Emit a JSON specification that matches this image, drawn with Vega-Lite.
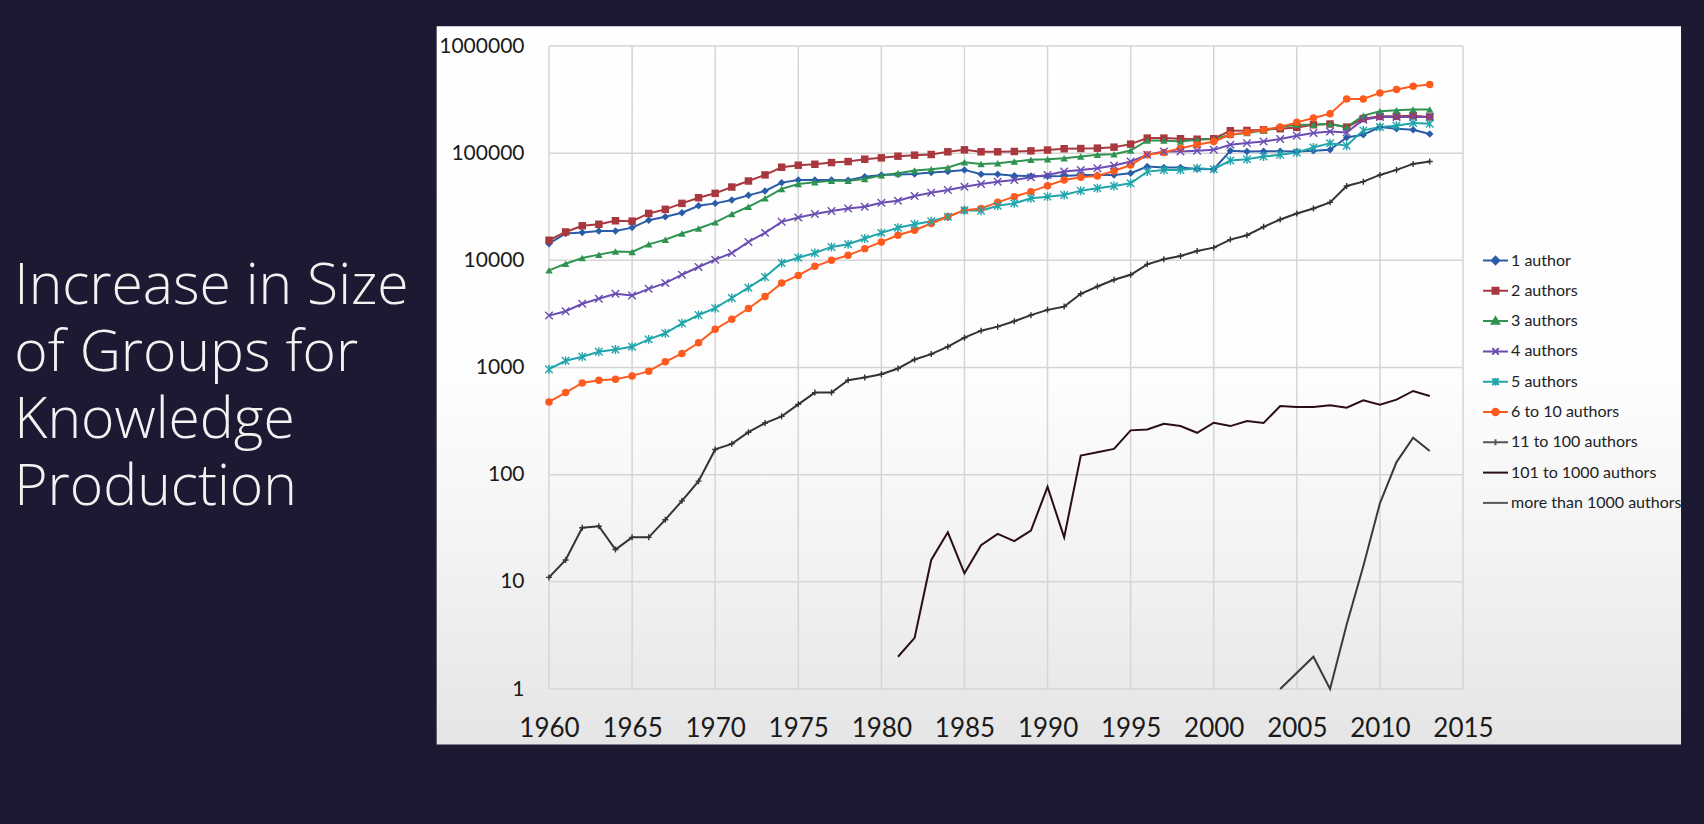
{
  "$schema": "https://vega.github.io/schema/vega-lite/v6.json",
  "width": 914,
  "height": 643,
  "autosize": {"type": "none"},
  "padding": {"left": 549, "top": 46, "right": 241, "bottom": 135},
  "background": "#1c1932",
  "config": {"view": {"stroke": null}},
  "title": {
    "text": ["Increase in Size", "of Groups for", "Knowledge", "Production"],
    "orient": "left",
    "anchor": "middle",
    "frame": "group",
    "angle": 0,
    "align": "left",
    "baseline": "alphabetic",
    "offset": 0,
    "dx": -28,
    "dy": -64,
    "font": "Open Sans",
    "fontSize": 57,
    "fontWeight": 300,
    "lineHeight": 67,
    "color": "#f2f2f2"
  },
  "datasets": {
    "years": [{"year":1960},{"year":1965},{"year":1970},{"year":1975},{"year":1980},{"year":1985},{"year":1990},{"year":1995},{"year":2000},{"year":2005},{"year":2010},{"year":2015}],
    "decades": [{"count":1},{"count":10},{"count":100},{"count":1000},{"count":10000},{"count":100000},{"count":1000000}],
    "counts": [
      {"year":1960,"series":"1 author","count":14300},{"year":1961,"series":"1 author","count":17800},{"year":1962,"series":"1 author","count":18200},{"year":1963,"series":"1 author","count":18800},{"year":1964,"series":"1 author","count":18800},{"year":1965,"series":"1 author","count":20200},{"year":1966,"series":"1 author","count":23700},{"year":1967,"series":"1 author","count":25500},{"year":1968,"series":"1 author","count":27800},{"year":1969,"series":"1 author","count":32300},
      {"year":1970,"series":"1 author","count":34000},{"year":1971,"series":"1 author","count":36500},{"year":1972,"series":"1 author","count":40400},{"year":1973,"series":"1 author","count":44400},{"year":1974,"series":"1 author","count":53100},{"year":1975,"series":"1 author","count":56200},{"year":1976,"series":"1 author","count":56200},{"year":1977,"series":"1 author","count":56200},{"year":1978,"series":"1 author","count":55900},{"year":1979,"series":"1 author","count":60400},
      {"year":1980,"series":"1 author","count":62400},{"year":1981,"series":"1 author","count":63100},{"year":1982,"series":"1 author","count":64000},{"year":1983,"series":"1 author","count":65900},{"year":1984,"series":"1 author","count":67300},{"year":1985,"series":"1 author","count":69800},{"year":1986,"series":"1 author","count":63500},{"year":1987,"series":"1 author","count":63500},{"year":1988,"series":"1 author","count":61700},{"year":1989,"series":"1 author","count":61300},
      {"year":1990,"series":"1 author","count":60800},{"year":1991,"series":"1 author","count":61300},{"year":1992,"series":"1 author","count":62700},{"year":1993,"series":"1 author","count":62700},{"year":1994,"series":"1 author","count":62700},{"year":1995,"series":"1 author","count":64900},{"year":1996,"series":"1 author","count":75000},{"year":1997,"series":"1 author","count":73400},{"year":1998,"series":"1 author","count":73400},{"year":1999,"series":"1 author","count":71300},
      {"year":2000,"series":"1 author","count":70800},{"year":2001,"series":"1 author","count":105200},{"year":2002,"series":"1 author","count":103600},{"year":2003,"series":"1 author","count":104400},{"year":2004,"series":"1 author","count":104400},{"year":2005,"series":"1 author","count":103600},{"year":2006,"series":"1 author","count":105200},{"year":2007,"series":"1 author","count":107400},{"year":2008,"series":"1 author","count":140300},{"year":2009,"series":"1 author","count":148500},
      {"year":2010,"series":"1 author","count":175500},{"year":2011,"series":"1 author","count":169000},{"year":2012,"series":"1 author","count":165500},{"year":2013,"series":"1 author","count":150700},

      {"year":1960,"series":"2 authors","count":15400},{"year":1961,"series":"2 authors","count":18400},{"year":1962,"series":"2 authors","count":21000},{"year":1963,"series":"2 authors","count":21700},{"year":1964,"series":"2 authors","count":23400},{"year":1965,"series":"2 authors","count":23200},{"year":1966,"series":"2 authors","count":27400},{"year":1967,"series":"2 authors","count":29900},{"year":1968,"series":"2 authors","count":34000},{"year":1969,"series":"2 authors","count":38400},
      {"year":1970,"series":"2 authors","count":42200},{"year":1971,"series":"2 authors","count":48300},{"year":1972,"series":"2 authors","count":55000},{"year":1973,"series":"2 authors","count":62700},{"year":1974,"series":"2 authors","count":73900},{"year":1975,"series":"2 authors","count":77200},{"year":1976,"series":"2 authors","count":78800},{"year":1977,"series":"2 authors","count":81700},{"year":1978,"series":"2 authors","count":83500},{"year":1979,"series":"2 authors","count":87800},
      {"year":1980,"series":"2 authors","count":90400},{"year":1981,"series":"2 authors","count":93700},{"year":1982,"series":"2 authors","count":95800},{"year":1983,"series":"2 authors","count":97200},{"year":1984,"series":"2 authors","count":103000},{"year":1985,"series":"2 authors","count":107400},{"year":1986,"series":"2 authors","count":103000},{"year":1987,"series":"2 authors","count":103000},{"year":1988,"series":"2 authors","count":103700},{"year":1989,"series":"2 authors","count":105000},
      {"year":1990,"series":"2 authors","count":107000},{"year":1991,"series":"2 authors","count":110000},{"year":1992,"series":"2 authors","count":110500},{"year":1993,"series":"2 authors","count":111400},{"year":1994,"series":"2 authors","count":113800},{"year":1995,"series":"2 authors","count":121400},{"year":1996,"series":"2 authors","count":138200},{"year":1997,"series":"2 authors","count":138200},{"year":1998,"series":"2 authors","count":136300},{"year":1999,"series":"2 authors","count":135000},
      {"year":2000,"series":"2 authors","count":136300},{"year":2001,"series":"2 authors","count":161900},{"year":2002,"series":"2 authors","count":163000},{"year":2003,"series":"2 authors","count":165500},{"year":2004,"series":"2 authors","count":169000},{"year":2005,"series":"2 authors","count":174000},{"year":2006,"series":"2 authors","count":184000},{"year":2007,"series":"2 authors","count":187000},{"year":2008,"series":"2 authors","count":175000},{"year":2009,"series":"2 authors","count":210000},
      {"year":2010,"series":"2 authors","count":220600},{"year":2011,"series":"2 authors","count":220600},{"year":2012,"series":"2 authors","count":224000},{"year":2013,"series":"2 authors","count":217500},

      {"year":1960,"series":"3 authors","count":8060},{"year":1961,"series":"3 authors","count":9300},{"year":1962,"series":"3 authors","count":10500},{"year":1963,"series":"3 authors","count":11300},{"year":1964,"series":"3 authors","count":12100},{"year":1965,"series":"3 authors","count":11970},{"year":1966,"series":"3 authors","count":14100},{"year":1967,"series":"3 authors","count":15600},{"year":1968,"series":"3 authors","count":17800},{"year":1969,"series":"3 authors","count":19800},
      {"year":1970,"series":"3 authors","count":22600},{"year":1971,"series":"3 authors","count":27000},{"year":1972,"series":"3 authors","count":31600},{"year":1973,"series":"3 authors","count":37900},{"year":1974,"series":"3 authors","count":46400},{"year":1975,"series":"3 authors","count":51600},{"year":1976,"series":"3 authors","count":53500},{"year":1977,"series":"3 authors","count":55400},{"year":1978,"series":"3 authors","count":55400},{"year":1979,"series":"3 authors","count":57500},
      {"year":1980,"series":"3 authors","count":62200},{"year":1981,"series":"3 authors","count":64900},{"year":1982,"series":"3 authors","count":68800},{"year":1983,"series":"3 authors","count":70800},{"year":1984,"series":"3 authors","count":73400},{"year":1985,"series":"3 authors","count":82300},{"year":1986,"series":"3 authors","count":79400},{"year":1987,"series":"3 authors","count":80600},{"year":1988,"series":"3 authors","count":83500},{"year":1989,"series":"3 authors","count":86600},
      {"year":1990,"series":"3 authors","count":87800},{"year":1991,"series":"3 authors","count":89800},{"year":1992,"series":"3 authors","count":93000},{"year":1993,"series":"3 authors","count":96500},{"year":1994,"series":"3 authors","count":97900},{"year":1995,"series":"3 authors","count":105900},{"year":1996,"series":"3 authors","count":131500},{"year":1997,"series":"3 authors","count":131500},{"year":1998,"series":"3 authors","count":128700},{"year":1999,"series":"3 authors","count":133400},
      {"year":2000,"series":"3 authors","count":135300},{"year":2001,"series":"3 authors","count":148500},{"year":2002,"series":"3 authors","count":154000},{"year":2003,"series":"3 authors","count":163000},{"year":2004,"series":"3 authors","count":175000},{"year":2005,"series":"3 authors","count":184000},{"year":2006,"series":"3 authors","count":184000},{"year":2007,"series":"3 authors","count":188000},{"year":2008,"series":"3 authors","count":175000},{"year":2009,"series":"3 authors","count":224000},
      {"year":2010,"series":"3 authors","count":245600},{"year":2011,"series":"3 authors","count":251400},{"year":2012,"series":"3 authors","count":255000},{"year":2013,"series":"3 authors","count":255000},

      {"year":1960,"series":"4 authors","count":3050},{"year":1961,"series":"4 authors","count":3350},{"year":1962,"series":"4 authors","count":3930},{"year":1963,"series":"4 authors","count":4380},{"year":1964,"series":"4 authors","count":4870},{"year":1965,"series":"4 authors","count":4700},{"year":1966,"series":"4 authors","count":5420},{"year":1967,"series":"4 authors","count":6130},{"year":1968,"series":"4 authors","count":7340},{"year":1969,"series":"4 authors","count":8660},
      {"year":1970,"series":"4 authors","count":10150},{"year":1971,"series":"4 authors","count":11700},{"year":1972,"series":"4 authors","count":14860},{"year":1973,"series":"4 authors","count":18040},{"year":1974,"series":"4 authors","count":22860},{"year":1975,"series":"4 authors","count":25100},{"year":1976,"series":"4 authors","count":27000},{"year":1977,"series":"4 authors","count":28800},{"year":1978,"series":"4 authors","count":30500},{"year":1979,"series":"4 authors","count":31600},
      {"year":1980,"series":"4 authors","count":34500},{"year":1981,"series":"4 authors","count":36000},{"year":1982,"series":"4 authors","count":39800},{"year":1983,"series":"4 authors","count":42800},{"year":1984,"series":"4 authors","count":45300},{"year":1985,"series":"4 authors","count":48700},{"year":1986,"series":"4 authors","count":51600},{"year":1987,"series":"4 authors","count":54200},{"year":1988,"series":"4 authors","count":56200},{"year":1989,"series":"4 authors","count":59600},
      {"year":1990,"series":"4 authors","count":62700},{"year":1991,"series":"4 authors","count":67300},{"year":1992,"series":"4 authors","count":69800},{"year":1993,"series":"4 authors","count":72300},{"year":1994,"series":"4 authors","count":76600},{"year":1995,"series":"4 authors","count":83500},{"year":1996,"series":"4 authors","count":96500},{"year":1997,"series":"4 authors","count":103700},{"year":1998,"series":"4 authors","count":103700},{"year":1999,"series":"4 authors","count":105200},
      {"year":2000,"series":"4 authors","count":107400},{"year":2001,"series":"4 authors","count":119700},{"year":2002,"series":"4 authors","count":124100},{"year":2003,"series":"4 authors","count":128600},{"year":2004,"series":"4 authors","count":135300},{"year":2005,"series":"4 authors","count":145400},{"year":2006,"series":"4 authors","count":154000},{"year":2007,"series":"4 authors","count":159600},{"year":2008,"series":"4 authors","count":156300},{"year":2009,"series":"4 authors","count":205400},
      {"year":2010,"series":"4 authors","count":217500},{"year":2011,"series":"4 authors","count":217500},{"year":2012,"series":"4 authors","count":217500},{"year":2013,"series":"4 authors","count":217500},

      {"year":1960,"series":"5 authors","count":964},{"year":1961,"series":"5 authors","count":1155},{"year":1962,"series":"5 authors","count":1260},{"year":1963,"series":"5 authors","count":1400},{"year":1964,"series":"5 authors","count":1475},{"year":1965,"series":"5 authors","count":1560},{"year":1966,"series":"5 authors","count":1830},{"year":1967,"series":"5 authors","count":2085},{"year":1968,"series":"5 authors","count":2585},{"year":1969,"series":"5 authors","count":3090},
      {"year":1970,"series":"5 authors","count":3575},{"year":1971,"series":"5 authors","count":4450},{"year":1972,"series":"5 authors","count":5560},{"year":1973,"series":"5 authors","count":6980},{"year":1974,"series":"5 authors","count":9440},{"year":1975,"series":"5 authors","count":10590},{"year":1976,"series":"5 authors","count":11720},{"year":1977,"series":"5 authors","count":13340},{"year":1978,"series":"5 authors","count":14130},{"year":1979,"series":"5 authors","count":15970},
      {"year":1980,"series":"5 authors","count":18040},{"year":1981,"series":"5 authors","count":20100},{"year":1982,"series":"5 authors","count":21750},{"year":1983,"series":"5 authors","count":23200},{"year":1984,"series":"5 authors","count":25500},{"year":1985,"series":"5 authors","count":29400},{"year":1986,"series":"5 authors","count":29000},{"year":1987,"series":"5 authors","count":32300},{"year":1988,"series":"5 authors","count":34000},{"year":1989,"series":"5 authors","count":37900},
      {"year":1990,"series":"5 authors","count":39300},{"year":1991,"series":"5 authors","count":40700},{"year":1992,"series":"5 authors","count":44700},{"year":1993,"series":"5 authors","count":47000},{"year":1994,"series":"5 authors","count":49400},{"year":1995,"series":"5 authors","count":52300},{"year":1996,"series":"5 authors","count":67300},{"year":1997,"series":"5 authors","count":69800},{"year":1998,"series":"5 authors","count":69800},{"year":1999,"series":"5 authors","count":72300},
      {"year":2000,"series":"5 authors","count":70800},{"year":2001,"series":"5 authors","count":85400},{"year":2002,"series":"5 authors","count":87900},{"year":2003,"series":"5 authors","count":93000},{"year":2004,"series":"5 authors","count":96500},{"year":2005,"series":"5 authors","count":101500},{"year":2006,"series":"5 authors","count":113000},{"year":2007,"series":"5 authors","count":124000},{"year":2008,"series":"5 authors","count":117200},{"year":2009,"series":"5 authors","count":163200},
      {"year":2010,"series":"5 authors","count":175400},{"year":2011,"series":"5 authors","count":180400},{"year":2012,"series":"5 authors","count":191000},{"year":2013,"series":"5 authors","count":188400},

      {"year":1960,"series":"6 to 10 authors","count":477},{"year":1961,"series":"6 to 10 authors","count":583},{"year":1962,"series":"6 to 10 authors","count":718},{"year":1963,"series":"6 to 10 authors","count":761},{"year":1964,"series":"6 to 10 authors","count":778},{"year":1965,"series":"6 to 10 authors","count":835},{"year":1966,"series":"6 to 10 authors","count":924},{"year":1967,"series":"6 to 10 authors","count":1130},{"year":1968,"series":"6 to 10 authors","count":1353},{"year":1969,"series":"6 to 10 authors","count":1703},
      {"year":1970,"series":"6 to 10 authors","count":2270},{"year":1971,"series":"6 to 10 authors","count":2820},{"year":1972,"series":"6 to 10 authors","count":3550},{"year":1973,"series":"6 to 10 authors","count":4600},{"year":1974,"series":"6 to 10 authors","count":6130},{"year":1975,"series":"6 to 10 authors","count":7230},{"year":1976,"series":"6 to 10 authors","count":8790},{"year":1977,"series":"6 to 10 authors","count":10000},{"year":1978,"series":"6 to 10 authors","count":11140},{"year":1979,"series":"6 to 10 authors","count":12860},
      {"year":1980,"series":"6 to 10 authors","count":14860},{"year":1981,"series":"6 to 10 authors","count":17140},{"year":1982,"series":"6 to 10 authors","count":19100},{"year":1983,"series":"6 to 10 authors","count":22070},{"year":1984,"series":"6 to 10 authors","count":25500},{"year":1985,"series":"6 to 10 authors","count":29400},{"year":1986,"series":"6 to 10 authors","count":30500},{"year":1987,"series":"6 to 10 authors","count":34750},{"year":1988,"series":"6 to 10 authors","count":39300},{"year":1989,"series":"6 to 10 authors","count":43750},
      {"year":1990,"series":"6 to 10 authors","count":49750},{"year":1991,"series":"6 to 10 authors","count":56200},{"year":1992,"series":"6 to 10 authors","count":59600},{"year":1993,"series":"6 to 10 authors","count":61300},{"year":1994,"series":"6 to 10 authors","count":68200},{"year":1995,"series":"6 to 10 authors","count":77600},{"year":1996,"series":"6 to 10 authors","count":96500},{"year":1997,"series":"6 to 10 authors","count":101500},{"year":1998,"series":"6 to 10 authors","count":111400},{"year":1999,"series":"6 to 10 authors","count":119700},
      {"year":2000,"series":"6 to 10 authors","count":128600},{"year":2001,"series":"6 to 10 authors","count":148500},{"year":2002,"series":"6 to 10 authors","count":156300},{"year":2003,"series":"6 to 10 authors","count":165500},{"year":2004,"series":"6 to 10 authors","count":175400},{"year":2005,"series":"6 to 10 authors","count":193900},{"year":2006,"series":"6 to 10 authors","count":212900},{"year":2007,"series":"6 to 10 authors","count":233800},{"year":2008,"series":"6 to 10 authors","count":320800},{"year":2009,"series":"6 to 10 authors","count":320800},
      {"year":2010,"series":"6 to 10 authors","count":365200},{"year":2011,"series":"6 to 10 authors","count":392500},{"year":2012,"series":"6 to 10 authors","count":421700},{"year":2013,"series":"6 to 10 authors","count":436900},

      {"year":1960,"series":"11 to 100 authors","count":11},{"year":1961,"series":"11 to 100 authors","count":16},{"year":1962,"series":"11 to 100 authors","count":32},{"year":1963,"series":"11 to 100 authors","count":33},{"year":1964,"series":"11 to 100 authors","count":20},{"year":1965,"series":"11 to 100 authors","count":26},{"year":1966,"series":"11 to 100 authors","count":26},{"year":1967,"series":"11 to 100 authors","count":38},{"year":1968,"series":"11 to 100 authors","count":57},{"year":1969,"series":"11 to 100 authors","count":87},
      {"year":1970,"series":"11 to 100 authors","count":172},{"year":1971,"series":"11 to 100 authors","count":194},{"year":1972,"series":"11 to 100 authors","count":249},{"year":1973,"series":"11 to 100 authors","count":303},{"year":1974,"series":"11 to 100 authors","count":350},{"year":1975,"series":"11 to 100 authors","count":453},{"year":1976,"series":"11 to 100 authors","count":583},{"year":1977,"series":"11 to 100 authors","count":583},{"year":1978,"series":"11 to 100 authors","count":761},{"year":1979,"series":"11 to 100 authors","count":806},
      {"year":1980,"series":"11 to 100 authors","count":866},{"year":1981,"series":"11 to 100 authors","count":979},{"year":1982,"series":"11 to 100 authors","count":1189},{"year":1983,"series":"11 to 100 authors","count":1334},{"year":1984,"series":"11 to 100 authors","count":1563},{"year":1985,"series":"11 to 100 authors","count":1897},{"year":1986,"series":"11 to 100 authors","count":2207},{"year":1987,"series":"11 to 100 authors","count":2405},{"year":1988,"series":"11 to 100 authors","count":2700},{"year":1989,"series":"11 to 100 authors","count":3080},
      {"year":1990,"series":"11 to 100 authors","count":3450},{"year":1991,"series":"11 to 100 authors","count":3700},{"year":1992,"series":"11 to 100 authors","count":4870},{"year":1993,"series":"11 to 100 authors","count":5700},{"year":1994,"series":"11 to 100 authors","count":6590},{"year":1995,"series":"11 to 100 authors","count":7340},{"year":1996,"series":"11 to 100 authors","count":9170},{"year":1997,"series":"11 to 100 authors","count":10220},{"year":1998,"series":"11 to 100 authors","count":10990},{"year":1999,"series":"11 to 100 authors","count":12230},
      {"year":2000,"series":"11 to 100 authors","count":13140},{"year":2001,"series":"11 to 100 authors","count":15620},{"year":2002,"series":"11 to 100 authors","count":17140},{"year":2003,"series":"11 to 100 authors","count":20540},{"year":2004,"series":"11 to 100 authors","count":24060},{"year":2005,"series":"11 to 100 authors","count":27380},{"year":2006,"series":"11 to 100 authors","count":30500},{"year":2007,"series":"11 to 100 authors","count":34740},{"year":2008,"series":"11 to 100 authors","count":49380},{"year":2009,"series":"11 to 100 authors","count":54200},
      {"year":2010,"series":"11 to 100 authors","count":62660},{"year":2011,"series":"11 to 100 authors","count":69780},{"year":2012,"series":"11 to 100 authors","count":79400},{"year":2013,"series":"11 to 100 authors","count":83520},

      {"year":1981,"series":"101 to 1000 authors","count":2},{"year":1982,"series":"101 to 1000 authors","count":3},{"year":1983,"series":"101 to 1000 authors","count":16},{"year":1984,"series":"101 to 1000 authors","count":29},{"year":1985,"series":"101 to 1000 authors","count":12},{"year":1986,"series":"101 to 1000 authors","count":22},{"year":1987,"series":"101 to 1000 authors","count":28},{"year":1988,"series":"101 to 1000 authors","count":24},{"year":1989,"series":"101 to 1000 authors","count":30},
      {"year":1990,"series":"101 to 1000 authors","count":77},{"year":1991,"series":"101 to 1000 authors","count":26},{"year":1992,"series":"101 to 1000 authors","count":151},{"year":1993,"series":"101 to 1000 authors","count":162},{"year":1994,"series":"101 to 1000 authors","count":174},{"year":1995,"series":"101 to 1000 authors","count":259},{"year":1996,"series":"101 to 1000 authors","count":264},{"year":1997,"series":"101 to 1000 authors","count":299},{"year":1998,"series":"101 to 1000 authors","count":284},{"year":1999,"series":"101 to 1000 authors","count":246},
      {"year":2000,"series":"101 to 1000 authors","count":305},{"year":2001,"series":"101 to 1000 authors","count":284},{"year":2002,"series":"101 to 1000 authors","count":316},{"year":2003,"series":"101 to 1000 authors","count":303},{"year":2004,"series":"101 to 1000 authors","count":437},{"year":2005,"series":"101 to 1000 authors","count":428},{"year":2006,"series":"101 to 1000 authors","count":428},{"year":2007,"series":"101 to 1000 authors","count":444},{"year":2008,"series":"101 to 1000 authors","count":422},{"year":2009,"series":"101 to 1000 authors","count":494},
      {"year":2010,"series":"101 to 1000 authors","count":450},{"year":2011,"series":"101 to 1000 authors","count":501},{"year":2012,"series":"101 to 1000 authors","count":604},{"year":2013,"series":"101 to 1000 authors","count":542},

      {"year":2004,"series":"more than 1000 authors","count":1},{"year":2006,"series":"more than 1000 authors","count":2},{"year":2007,"series":"more than 1000 authors","count":1},{"year":2008,"series":"more than 1000 authors","count":4},{"year":2009,"series":"more than 1000 authors","count":14},{"year":2010,"series":"more than 1000 authors","count":54},{"year":2011,"series":"more than 1000 authors","count":131},{"year":2012,"series":"more than 1000 authors","count":221},{"year":2013,"series":"more than 1000 authors","count":166}
    ]
  },
  "layer": [
    {
      "data": {"values": [{}]},
      "mark": {
        "type": "rect",
        "fill": {"gradient": "linear", "x1": 0, "y1": 0, "x2": 0, "y2": 1,
          "stops": [{"offset": 0, "color": "#ffffff"}, {"offset": 0.5, "color": "#fdfdfd"}, {"offset": 0.75, "color": "#f2f2f2"}, {"offset": 1, "color": "#e5e5e5"}]}
      },
      "encoding": {
        "x": {"datum": 1953.24, "type": "quantitative", "title": null},
        "x2": {"datum": 2028.12},
        "y": {"datum": 1527000, "type": "quantitative", "title": null},
        "y2": {"datum": 0.303}
      }
    },
    {
      "data": {"name": "years"},
      "mark": {"type": "rule", "color": "#d5d5d5", "strokeWidth": 1.5},
      "encoding": {"x": {"field": "year", "type": "quantitative", "title": null}}
    },
    {
      "data": {"name": "decades"},
      "mark": {"type": "rule", "color": "#d5d5d5", "strokeWidth": 1.5},
      "encoding": {"y": {"field": "count", "type": "quantitative", "title": null}}
    },
    {
      "data": {"name": "counts"},
      "mark": {"type": "line", "strokeWidth": 2},
      "encoding": {
        "x": {"field": "year", "type": "quantitative", "title": null,
          "scale": {"domain": [1960, 2015], "nice": false, "zero": false},
          "axis": {"values": [1960,1965,1970,1975,1980,1985,1990,1995,2000,2005,2010,2015], "format": "d",
            "labelFont": "Lato", "labelFontSize": 26, "labelColor": "#1a1a1a", "labelPadding": 26,
            "labelFlush": false, "labelOverlap": false, "ticks": false, "domain": false, "grid": false, "zindex": 1}},
        "y": {"field": "count", "type": "quantitative", "title": null,
          "scale": {"type": "log", "domain": [1, 1000000], "nice": false},
          "axis": {"values": [1,10,100,1000,10000,100000,1000000], "format": "d",
            "labelFont": "Lato", "labelFontSize": 21, "labelColor": "#1a1a1a", "labelPadding": 25,
            "labelOverlap": false, "ticks": false, "domain": false, "grid": false, "zindex": 1}},
        "color": {"field": "series", "type": "nominal", "legend": null,
          "scale": {"domain": ["1 author","2 authors","3 authors","4 authors","5 authors","6 to 10 authors","11 to 100 authors","101 to 1000 authors","more than 1000 authors"],
            "range": ["#2a5ca8","#a8383e","#2e9350","#6a4db2","#1fa5ab","#ff5a1e","#333333","#2a0e12","#363d38"]}}
      }
    },
    {
      "data": {"name": "counts"},
      "transform": [{"filter": {"field": "series", "oneOf": ["1 author","2 authors","3 authors","6 to 10 authors"]}}],
      "mark": {"type": "point", "filled": true, "opacity": 1, "size": 56},
      "encoding": {
        "x": {"field": "year", "type": "quantitative", "title": null},
        "y": {"field": "count", "type": "quantitative", "title": null},
        "color": {"field": "series", "type": "nominal", "legend": null,
          "scale": {"domain": ["1 author","2 authors","3 authors","4 authors","5 authors","6 to 10 authors","11 to 100 authors","101 to 1000 authors","more than 1000 authors"],
            "range": ["#2a5ca8","#a8383e","#2e9350","#6a4db2","#1fa5ab","#ff5a1e","#333333","#2a0e12","#363d38"]}},
        "shape": {"field": "series", "type": "nominal", "legend": null,
          "scale": {"domain": ["1 author","2 authors","3 authors","6 to 10 authors"], "range": ["diamond","square","triangle-up","circle"]}}
      }
    },
    {
      "data": {"name": "counts"},
      "transform": [{"filter": {"field": "series", "oneOf": ["4 authors","5 authors","11 to 100 authors"]}}],
      "mark": {"type": "point", "filled": false, "opacity": 1, "size": 56, "strokeWidth": 1.4},
      "encoding": {
        "x": {"field": "year", "type": "quantitative", "title": null},
        "y": {"field": "count", "type": "quantitative", "title": null},
        "color": {"field": "series", "type": "nominal", "legend": null,
          "scale": {"domain": ["1 author","2 authors","3 authors","4 authors","5 authors","6 to 10 authors","11 to 100 authors","101 to 1000 authors","more than 1000 authors"],
            "range": ["#2a5ca8","#a8383e","#2e9350","#6a4db2","#1fa5ab","#ff5a1e","#333333","#2a0e12","#363d38"]}},
        "shape": {"field": "series", "type": "nominal", "legend": null,
          "scale": {"domain": ["4 authors","5 authors","11 to 100 authors"],
            "range": ["M-1,-1L1,1M-1,1L1,-1", "M-1,-1L1,1M-1,1L1,-1M0,-1.2L0,1.2", "M-0.8,0L0.8,0M0,-0.8L0,0.8"]}}
      }
    },
    {
      "data": {"values": []},
      "mark": {"type": "point", "filled": false, "opacity": 1, "size": 625, "strokeWidth": 2},
      "encoding": {
        "color": {"field": "series", "type": "nominal",
          "scale": {"domain": ["1 author","2 authors","3 authors","4 authors","5 authors","6 to 10 authors","11 to 100 authors","101 to 1000 authors","more than 1000 authors"],
            "range": ["#2a5ca8","#a8383e","#2e9350","#6a4db2","#1fa5ab","#ff5a1e","#555555","#2a0e12","#555a56"]},
          "legend": {"orient": "none", "legendX": 933, "legendY": 201, "direction": "vertical", "title": null, "padding": 0,
            "labelFont": "Lato", "labelFontSize": 16, "labelColor": "#222222", "labelOffset": 2, "labelLimit": 300,
            "symbolSize": 625, "symbolStrokeWidth": 2, "rowPadding": 8.3}},
        "shape": {"field": "series", "type": "nominal",
          "scale": {"domain": ["1 author","2 authors","3 authors","4 authors","5 authors","6 to 10 authors","11 to 100 authors","101 to 1000 authors","more than 1000 authors"],
            "range": [
              "M-1,0H1M0,-0.3L0.3,0L0,0.3L-0.3,0ZM0,-0.12L0.12,0L0,0.12L-0.12,0Z",
              "M-1,0H1M-0.24,-0.24H0.24V0.24H-0.24ZM-0.1,-0.1H0.1V0.1H-0.1Z",
              "M-1,0H1M0,-0.3L0.3,0.22H-0.3ZM0,-0.1L0.1,0.1H-0.1Z",
              "M-1,0H1M-0.26,-0.26L0.26,0.26M-0.26,0.26L0.26,-0.26",
              "M-1,0H1M-0.26,-0.26L0.26,0.26M-0.26,0.26L0.26,-0.26M0,-0.3V0.3",
              "M-1,0H1M-0.26,0A0.26,0.26,0,1,0,0.26,0A0.26,0.26,0,1,0,-0.26,0ZM-0.1,0A0.1,0.1,0,1,0,0.1,0A0.1,0.1,0,1,0,-0.1,0Z",
              "M-1,0H1M0,-0.24V0.24",
              "M-1,0H1",
              "M-1,0H1"]},
          "legend": {"orient": "none", "legendX": 933, "legendY": 201, "direction": "vertical", "title": null, "padding": 0,
            "labelFont": "Lato", "labelFontSize": 16, "labelColor": "#222222", "labelOffset": 2, "labelLimit": 300,
            "symbolSize": 625, "symbolStrokeWidth": 2, "rowPadding": 8.3}}
      }
    }
  ],
  "resolve": {"scale": {"color": "independent", "shape": "independent"}}
}
